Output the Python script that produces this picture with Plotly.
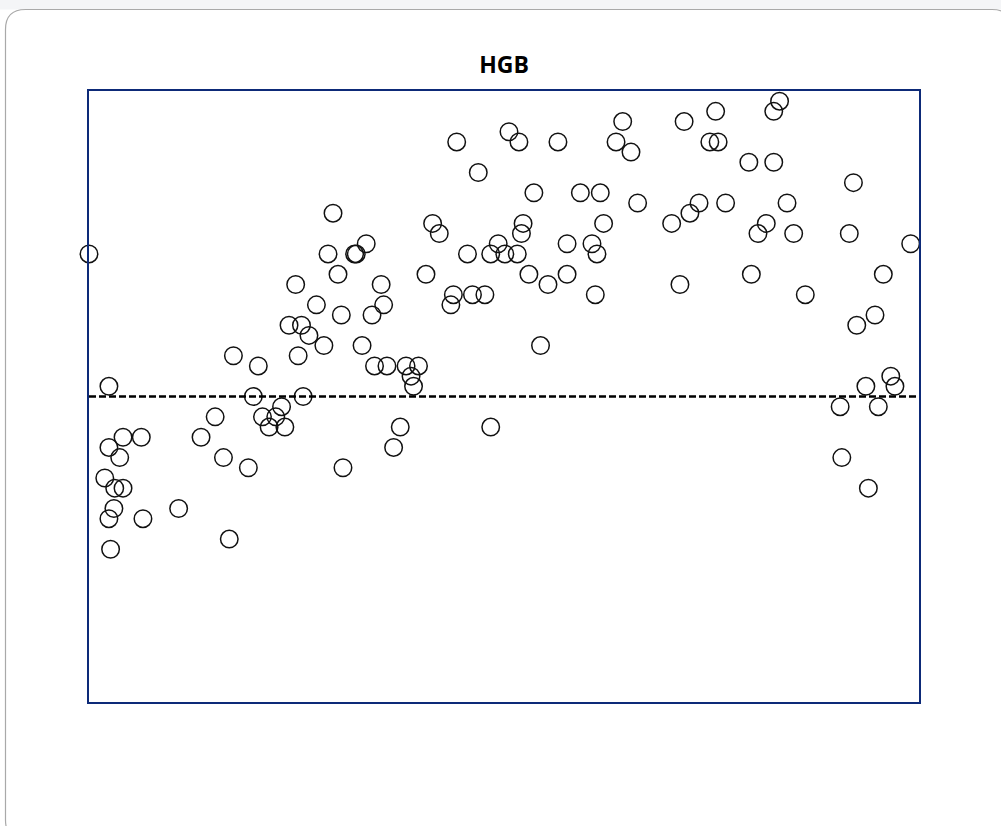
import plotly.graph_objects as go

# ---- data (x: 0-100 scale, y: 0-60 scale) ----
x_vals = [
    0.0, 2.4, 19.8, 23.2, 20.9, 22.5, 21.7, 23.6, 15.2, 13.5,
    4.1, 6.3, 2.4, 3.7, 16.2, 19.2, 1.9, 3.1, 4.1, 3.0,
    2.4, 6.5, 10.8, 16.9, 2.6, 17.4, 20.4, 25.8, 30.6, 37.5,
    36.7, 34.4, 35.9, 38.2, 39.7, 38.8, 39.1, 24.1, 25.6, 26.5,
    28.3, 25.2, 32.9, 30.4, 34.1, 27.4, 35.5, 24.9, 35.2, 30.0,
    40.6, 28.8, 32.0, 32.2, 33.4, 29.4, 41.4, 42.2, 43.9, 43.6,
    46.2, 47.7, 45.6, 48.4, 49.3, 50.1, 51.6, 52.1, 52.3, 53.0,
    55.3, 57.6, 57.6, 60.6, 61.2, 62.0, 61.0, 54.4, 48.4, 44.3,
    46.9, 50.6, 51.8, 56.5, 53.6, 59.2, 61.6, 64.3, 63.5, 65.3,
    66.1, 71.7, 70.2, 72.4, 73.5, 71.2, 75.5, 74.8, 75.8, 76.7,
    79.5, 82.5, 82.5, 83.2, 81.6, 80.6, 79.8, 84.1, 84.9, 86.3,
    92.1, 91.6, 99.0, 95.7, 94.7, 92.5, 96.6, 97.1, 93.6, 90.5,
    95.1, 90.7, 93.9,
]
y_vals = [
    44, 31, 30, 29, 28, 28, 27, 27, 28, 26,
    26, 26, 25, 24, 24, 23, 22, 21, 21, 19,
    18, 18, 19, 16, 15, 34, 33, 30, 23, 27,
    25, 33, 33, 33, 33, 32, 31, 37, 37, 36,
    35, 34, 35, 38, 38, 39, 39, 41, 41, 42,
    42, 44, 44, 44, 45, 48, 47, 46, 40, 39,
    40, 40, 44, 44, 45, 44, 44, 46, 47, 42,
    41, 42, 45, 45, 44, 47, 40, 35, 27, 55,
    52, 56, 55, 55, 50, 50, 50, 57, 55, 54,
    49, 57, 47, 48, 49, 41, 58, 55, 55, 49,
    53, 53, 58, 59, 47, 46, 42, 49, 46, 40,
    51, 46, 45, 42, 38, 37, 32, 31, 31, 29,
    29, 24, 21,
]
threshold = 30
x_range = [0, 100]
y_range = [0, 60]
title_text = "HGB"

# ---- layout geometry (pixels) ----
W, H = 1001, 826
L, R, T, B = 89, 919, 91, 702


def px(xp):
    return (xp - L) / (R - L)


def py(yp):
    return (B - yp) / (B - T)


fig = go.Figure()
fig.add_trace(go.Scatter(
    x=x_vals, y=y_vals, mode="markers",
    marker=dict(symbol="circle-open", size=17.5, color="#111111",
                line=dict(width=1.5, color="#111111")),
    cliponaxis=False, showlegend=False, hoverinfo="x+y",
))

# card background
cx0, cy0, cx1, cy1, r = 5.5, 9.5, 1012, 840, 20
card_path = (
    f"M {px(cx0)},{py(cy0 + r)} "
    f"Q {px(cx0)},{py(cy0)} {px(cx0 + r)},{py(cy0)} "
    f"L {px(cx1 - r)},{py(cy0)} "
    f"Q {px(cx1)},{py(cy0)} {px(cx1)},{py(cy0 + r)} "
    f"L {px(cx1)},{py(cy1 - r)} "
    f"Q {px(cx1)},{py(cy1)} {px(cx1 - r)},{py(cy1)} "
    f"L {px(cx0 + r)},{py(cy1)} "
    f"Q {px(cx0)},{py(cy1)} {px(cx0)},{py(cy1 - r)} Z"
)
shapes = [
    dict(type="rect", xref="paper", yref="paper", x0=px(0), x1=px(W), y0=py(0), y1=py(cy0),
         fillcolor="#f4f5f7", line=dict(width=0), layer="below"),
    dict(type="path", xref="paper", yref="paper", path=card_path,
         fillcolor="white", line=dict(color="#a9a9a9", width=1.2), layer="below"),
    dict(type="line", xref="x", yref="y", x0=x_range[0], x1=x_range[1], y0=threshold, y1=threshold,
         line=dict(color="black", width=2.5, dash="7px,3px"), layer="above"),
]

axis_common = dict(showgrid=False, zeroline=False, showticklabels=False, ticks="",
                   showline=True, mirror=True, linecolor="#0d2a78", linewidth=1.7)

fig.update_layout(
    width=W, height=H,
    margin=dict(l=L, r=W - R, t=T, b=H - B),
    paper_bgcolor="white",
    plot_bgcolor="rgba(0,0,0,0)",
    shapes=shapes,
    title=dict(text=f"<b>{title_text}</b>", x=504 / W, xanchor="center",
               y=1 - 65 / H, yanchor="middle",
               font=dict(family="Open Sans, Noto Sans, sans-serif", size=23, color="black")),
    xaxis=dict(range=x_range, **axis_common),
    yaxis=dict(range=y_range, **axis_common),
)

fig.write_html("out.html", config={"displayModeBar": False},
               post_script="document.body.style.margin='0';")
